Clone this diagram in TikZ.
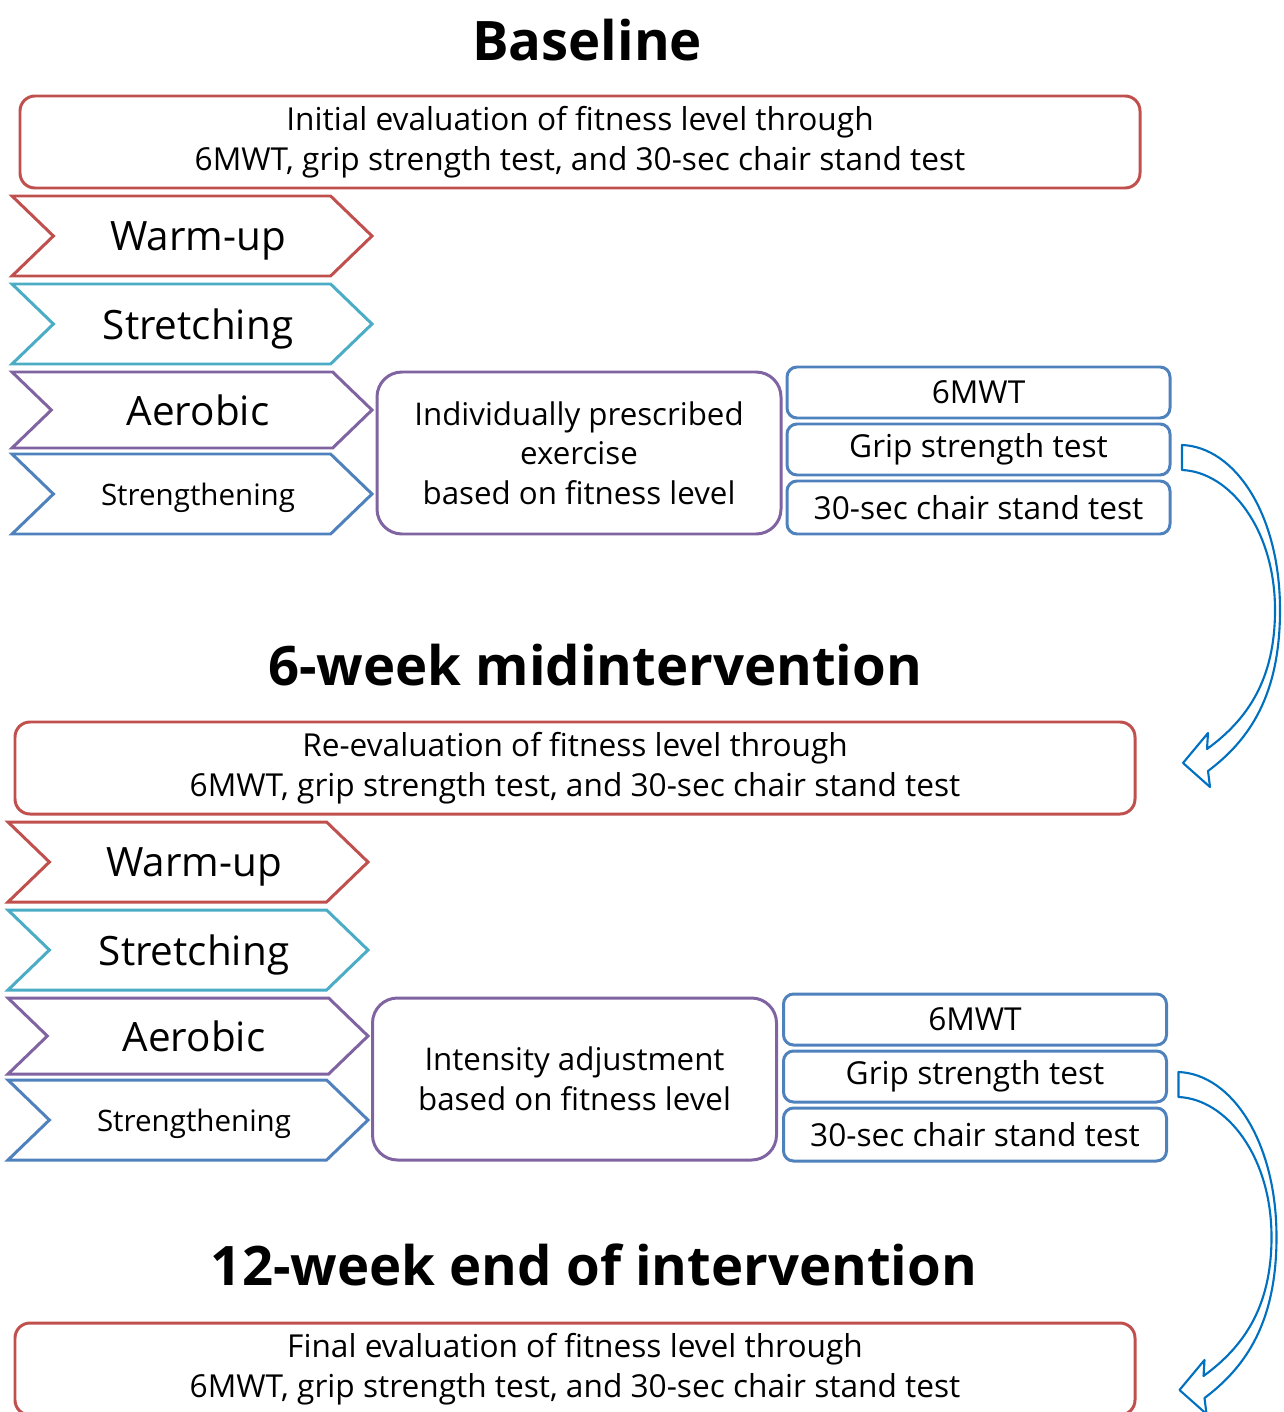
\documentclass[tikz,border=0pt]{standalone}
\usepackage{fontspec}
\setmainfont{Open Sans}
\usetikzlibrary{shapes.symbols,positioning}

\definecolor{evalred}{RGB}{192,80,77}
\definecolor{stretchcyan}{RGB}{75,172,198}
\definecolor{aeropurple}{RGB}{128,100,162}
\definecolor{strengthblue}{RGB}{79,129,189}
\definecolor{arrowblue}{RGB}{0,112,192}

\tikzset{
  stagetitle/.style={font=\fontsize{31}{36}\selectfont\bfseries},
  evalbox/.style={draw=evalred, line width=1.7pt, rounded corners=0.3cm, minimum width=22.4cm, minimum height=1.84cm, align=center, font=\fontsize{18}{22.8}\selectfont},
  phase/.style={signal, signal from=west, signal to=east, signal pointer angle=88, line width=1.7pt, outer sep=0pt, minimum width=7.2cm, minimum height=1.6cm, inner sep=0pt, text depth=0pt, font=\fontsize{23}{26}\selectfont, execute at begin node={\hspace*{0.24cm}}},
  planbox/.style={draw=aeropurple, line width=1.7pt, rounded corners=0.5cm, minimum width=8.08cm, minimum height=3.24cm, align=center, font=\fontsize{17.8}{22.6}\selectfont},
  testbox/.style={draw=strengthblue, line width=1.7pt, outer sep=0pt, rounded corners=0.2cm, minimum width=7.66cm, minimum height=1.02cm, inner sep=0pt, font=\fontsize{18}{20}\selectfont},
  bendarrow/.pic={
    \draw[arrowblue, line width=1.2pt, line join=round, fill=white]
      (0.24,0.09) .. controls (1.3,0.05) and (2.2,-1.3) .. (2.2,-3.21)
      .. controls (2.2,-4.9) and (1.6,-5.8) .. (0.76,-6.43)
      -- (0.8,-6.75) -- (0.26,-6.27) -- (0.76,-5.67) -- (0.74,-5.99)
      .. controls (1.55,-5.4) and (2.1,-4.6) .. (2.1,-3.21)
      .. controls (2.1,-1.6) and (1.2,-0.45) .. (0.24,-0.41) -- cycle;
  }
}

\begin{document}
\begin{tikzpicture}
  \useasboundingbox (0,0) rectangle (25.66,-28.24);

  % baseline
  \node[stagetitle] (baseT) at (11.74,-0.8) {Baseline};
  \node[evalbox] (evalA) at (11.6,-2.84) {Initial evaluation of fitness level through\\6MWT, grip strength test, and 30-sec chair stand test};
  \node[phase, draw=evalred] (warmA) at (3.84,-4.72) {Warm-up};
  \node[phase, draw=stretchcyan, below=0.16cm of warmA] (stretchA) {Stretching};
  \node[phase, draw=aeropurple, minimum height=1.52cm, below=0.16cm of stretchA] (aeroA) {Aerobic};
  \node[phase, draw=strengthblue, font=\fontsize{16.8}{20}\selectfont, below=0.12cm of aeroA] (strengthA) {Strengthening};
  \node[planbox] (planA) at (11.58,-9.06) {Individually prescribed\\exercise\\based on fitness level};
  \node[testbox] (mwtA) at (19.57,-7.85) {6MWT};
  \node[testbox, below=0.12cm of mwtA] (gripA) {Grip strength test};
  \node[testbox, minimum height=1.06cm, below=0.12cm of gripA] (chairA) {30-sec chair stand test};
  \pic at (gripA.east) {bendarrow};

  % 6 weeks
  \node[stagetitle] (midT) at (11.9,-13.3) {6-week midintervention};
  \node[evalbox] (evalB) at (11.5,-15.36) {Re-evaluation of fitness level through\\6MWT, grip strength test, and 30-sec chair stand test};
  \node[phase, draw=evalred] (warmB) at (3.76,-17.24) {Warm-up};
  \node[phase, draw=stretchcyan, below=0.16cm of warmB] (stretchB) {Stretching};
  \node[phase, draw=aeropurple, minimum height=1.52cm, below=0.16cm of stretchB] (aeroB) {Aerobic};
  \node[phase, draw=strengthblue, font=\fontsize{16.8}{20}\selectfont, below=0.12cm of aeroB] (strengthB) {Strengthening};
  \node[planbox] (planB) at (11.49,-21.58) {Intensity adjustment\\based on fitness level};
  \node[testbox] (mwtB) at (19.5,-20.39) {6MWT};
  \node[testbox, below=0.12cm of mwtB] (gripB) {Grip strength test};
  \node[testbox, minimum height=1.06cm, below=0.12cm of gripB] (chairB) {30-sec chair stand test};
  \pic at (gripB.east) {bendarrow};

  % 12 weeks
  \node[stagetitle] (endT) at (11.88,-25.3) {12-week end of intervention};
  \node[evalbox] (evalC) at (11.5,-27.38) {Final evaluation of fitness level through\\6MWT, grip strength test, and 30-sec chair stand test};
\end{tikzpicture}
\end{document}
